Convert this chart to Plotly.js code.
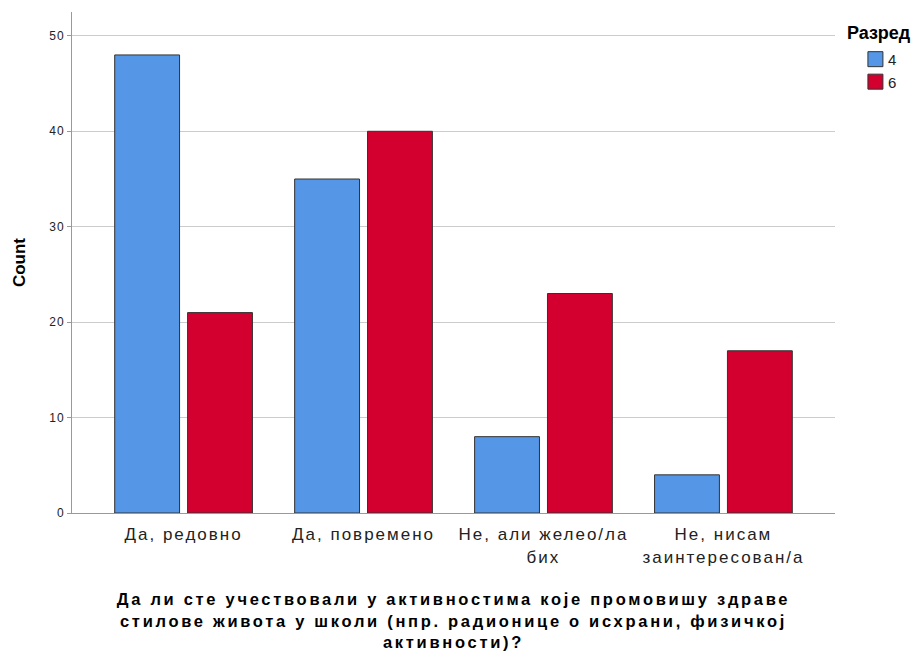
<!DOCTYPE html>
<html><head><meta charset="utf-8">
<script src="https://cdn.plot.ly/plotly-3.0.1.min.js"></script>
<style>
body{margin:0;background:#fff}#chart{width:924px;height:651px}
#chart .xtick text{letter-spacing:2px}
#chart .ytick text{letter-spacing:1px}
#chart .g-xtitle text{letter-spacing:2.7px}
</style>
</head><body><div id="chart"></div>
<script>
const categories = ["Да, редовно", "Да, повремено", "Не, али желео/ла<br>бих", "Не, нисам<br>заинтересован/а"];
const grade4 = [48, 35, 8, 4];
const grade6 = [21, 40, 23, 17];
const seriesNames = ["4", "6"];
const yTicks = [0, 10, 20, 30, 40, 50];

const barLine = {color: "#333333", width: 1};
const data = [
  {type: "bar", x: categories, y: grade4, name: seriesNames[0], marker: {color: "#5596E6", line: barLine}},
  {type: "bar", x: categories, y: grade6, name: seriesNames[1], marker: {color: "#D3002F", line: barLine}}
];
const layout = {
  width: 924, height: 651,
  margin: {l: 72, r: 89, t: 12, b: 138, autoexpand: false},
  paper_bgcolor: "#fff", plot_bgcolor: "#fff",
  barmode: "group", bargap: 0.19, bargroupgap: 0.11,
  font: {family: "Liberation Sans, Arial, sans-serif", color: "#222"},
  showlegend: true,
  legend: {x: 1.013, xanchor: "left", y: 0.993, yanchor: "top",
    title: {text: "<b>Разред</b>", font: {size: 18, color: "#000"}},
    font: {size: 15, color: "#222"}, tracegroupgap: 0, itemwidth: 30},
  xaxis: {type: "category", range: [-0.62, 3.62], showline: true, linecolor: "#999", linewidth: 1,
    ticks: "outside", ticklen: 6, tickcolor: "rgba(0,0,0,0)",
    tickfont: {size: 17, color: "#222"},
    automargin: false,
    title: {text: "<b>Да ли сте учествовали у активностима које промовишу здраве<br>стилове живота у школи (нпр. радионице о исхрани, физичкој<br>активности)?</b>",
      font: {size: 16.5, color: "#000"}, standoff: 28}},
  yaxis: {range: [0, 52.5], tickvals: yTicks, showline: true, linecolor: "#999", linewidth: 1,
    showgrid: true, gridcolor: "#cccccc", gridwidth: 1, zeroline: false,
    ticks: "outside", ticklen: 4, tickcolor: "#999", tickfont: {size: 12, color: "#222"},
    automargin: false,
    title: {text: "<b>Count</b>", font: {size: 17, color: "#000"}, standoff: 21}}
};
Plotly.newPlot("chart", data, layout, {displayModeBar: false}).then(function(gd){
  gd.querySelectorAll(".legend .legendpoints path").forEach(function(p){
    p.setAttribute("d", "M18,7.5H3V-7.5H18Z");
  });
  gd.querySelectorAll(".legend .traces").forEach(function(g){
    const t = g.getAttribute("transform") || "";
    const m = t.match(/translate\(\s*([-\d.]+)[ ,]+([-\d.]+)\s*\)/);
    if (m) g.setAttribute("transform", "translate(" + m[1] + "," + (parseFloat(m[2]) + 4) + ")");
  });
  gd.querySelectorAll(".legend .legendtext").forEach(function(t){
    const x = parseFloat(t.getAttribute("x") || "0");
    t.setAttribute("x", x + 3);
  });
});
</script></body></html>
